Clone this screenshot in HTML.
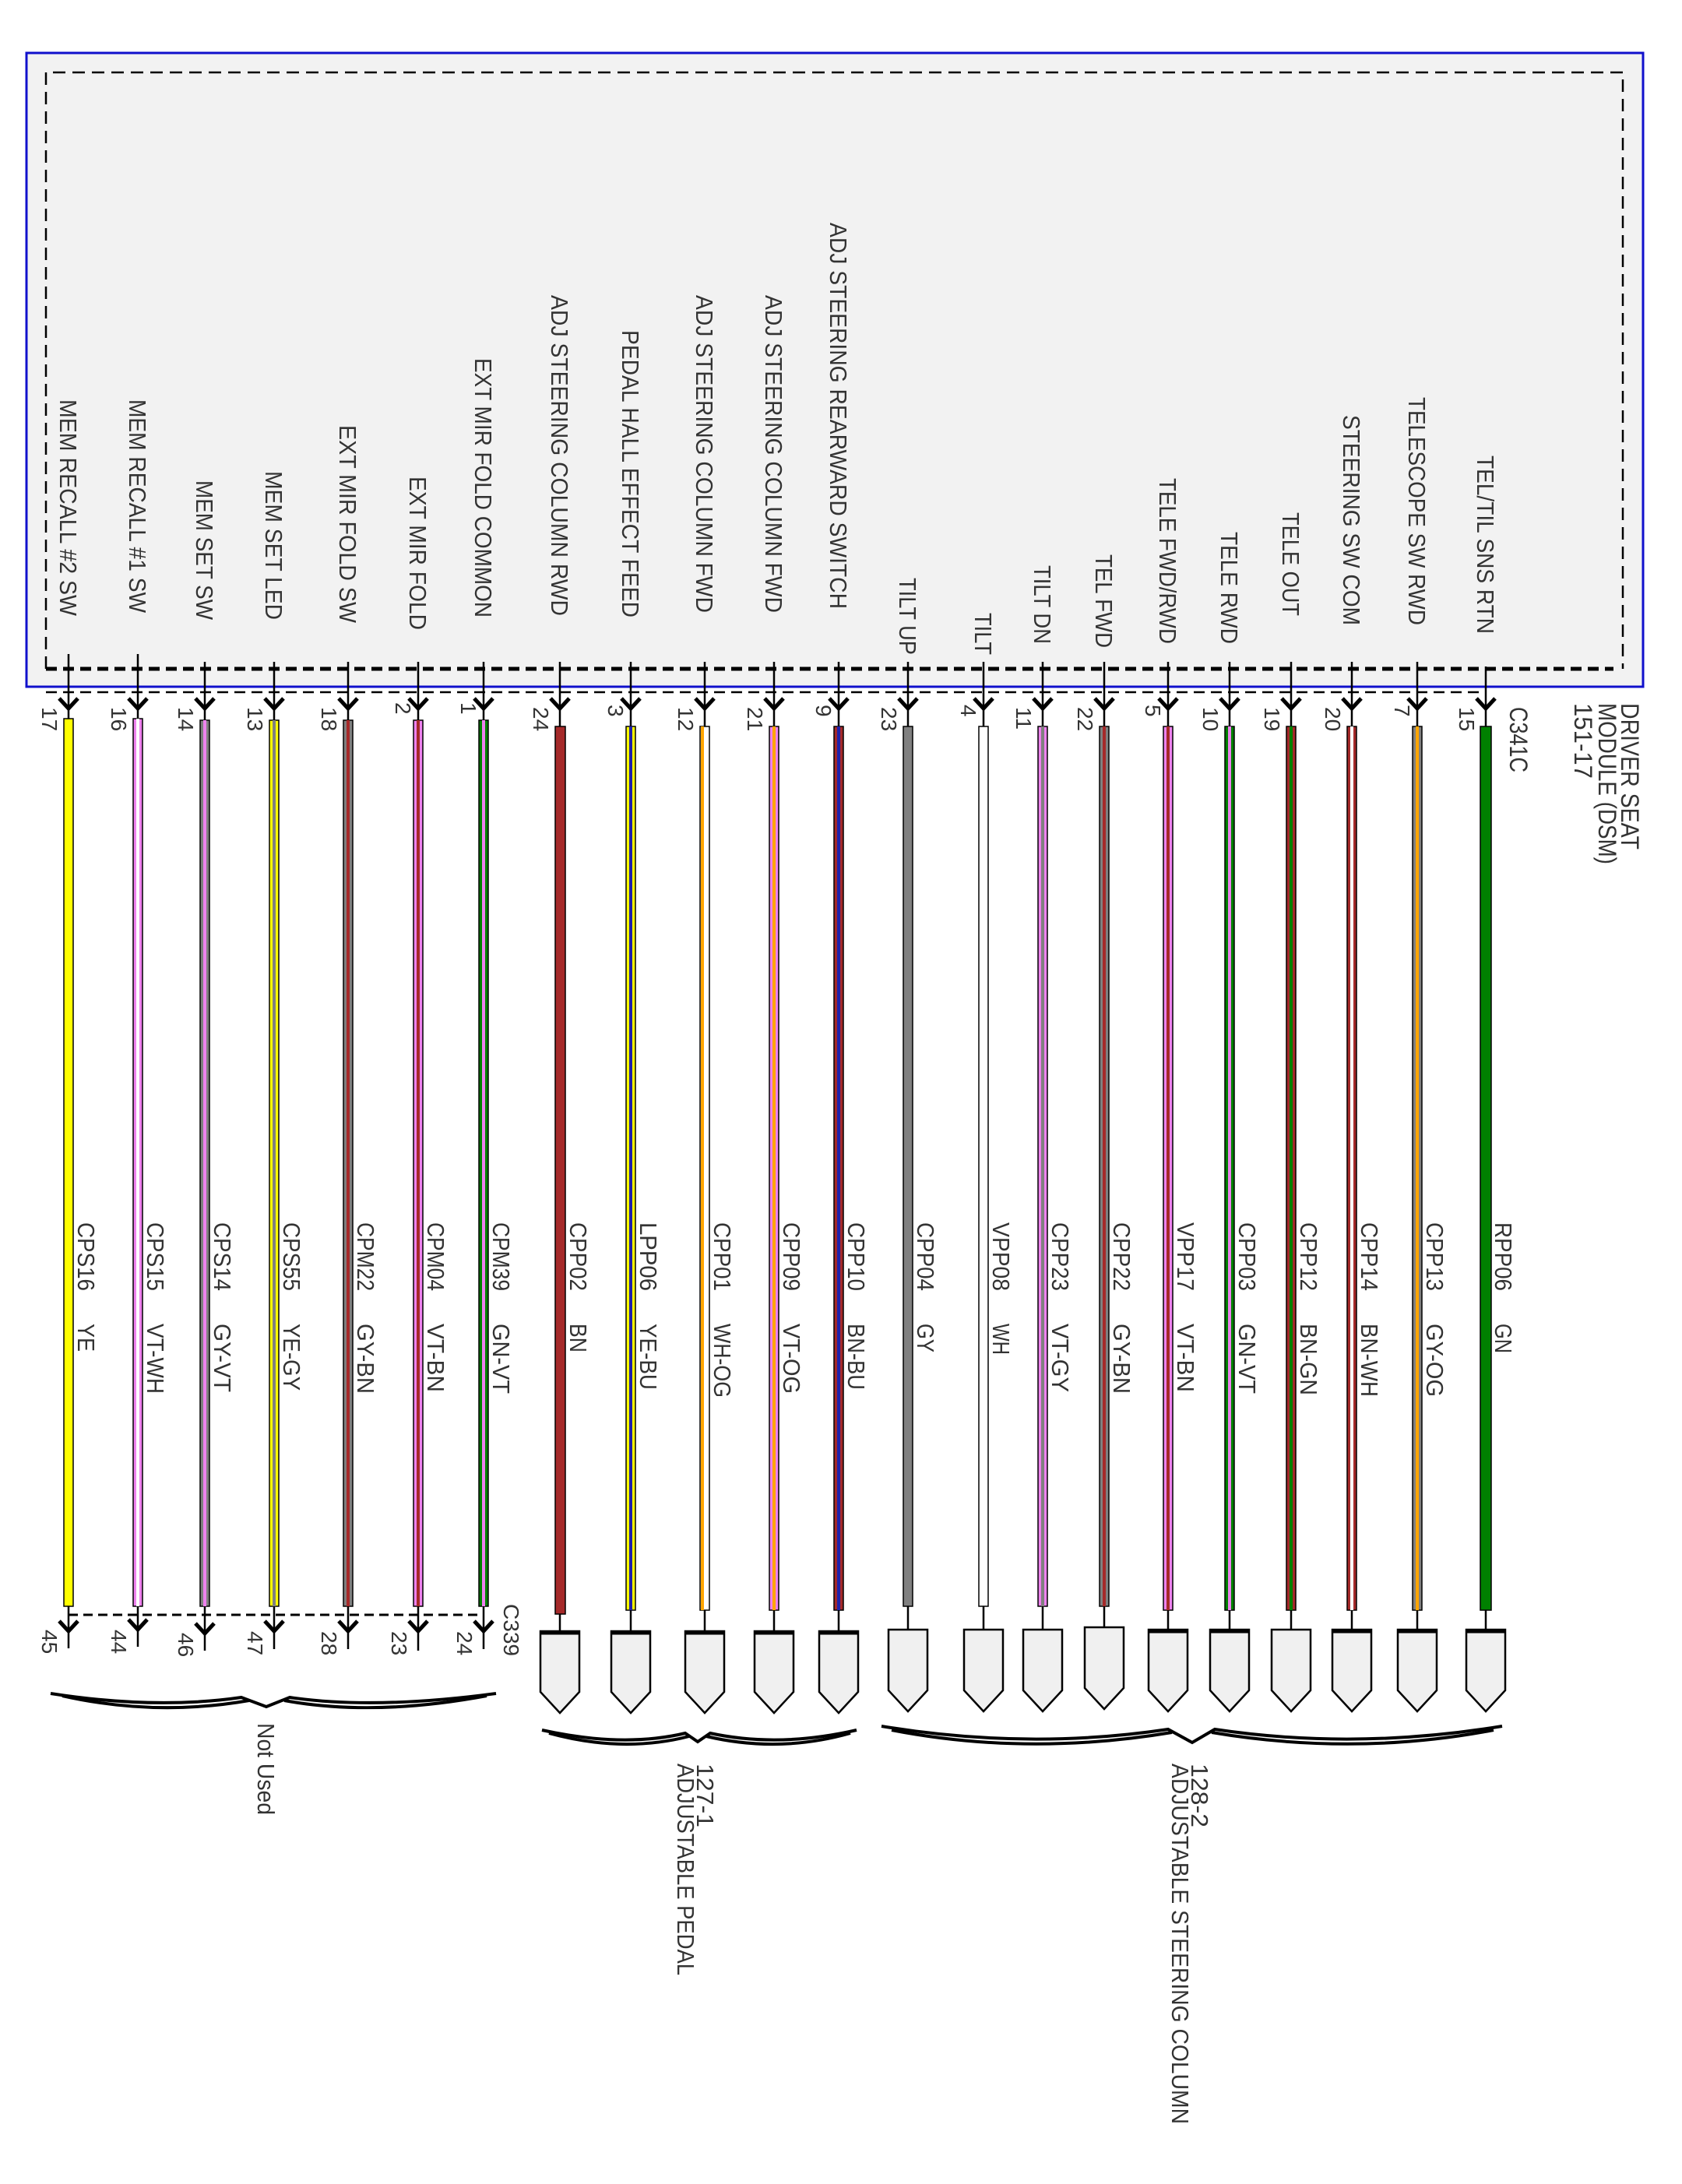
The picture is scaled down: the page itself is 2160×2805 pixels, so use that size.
<!DOCTYPE html>
<html><head><meta charset="utf-8"><style>
html,body{margin:0;padding:0;background:#fff}
svg{display:block}
text{font-family:"Liberation Sans",Arial,sans-serif;fill:#333}
</style></head><body>
<svg width="2160" height="2805" viewBox="0 0 2160 2805" xmlns="http://www.w3.org/2000/svg">
<rect x="34" y="68" width="2076" height="814" fill="#f2f2f2" stroke="#1010cc" stroke-width="3"/>
<path d="M59 859 V93 H2084 V859" fill="none" stroke="#000" stroke-width="2.5" stroke-dasharray="16 9"/>
<path d="M59 859 H2072" fill="none" stroke="#000" stroke-width="5" stroke-dasharray="14 8"/>
<path d="M59 889 H1908" fill="none" stroke="#000" stroke-width="2.5" stroke-dasharray="14 8"/>
<path d="M88 2074 H620" fill="none" stroke="#000" stroke-width="3" stroke-dasharray="12 7"/>

<g font-size="31">
<text transform="translate(77,791) rotate(90)" text-anchor="end" textLength="278" lengthAdjust="spacingAndGlyphs">MEM RECALL #2 SW</text>
<text transform="translate(166,787) rotate(90)" text-anchor="end" textLength="274" lengthAdjust="spacingAndGlyphs">MEM RECALL #1 SW</text>
<text transform="translate(252,796) rotate(90)" text-anchor="end" textLength="179" lengthAdjust="spacingAndGlyphs">MEM SET SW</text>
<text transform="translate(341,796) rotate(90)" text-anchor="end" textLength="191" lengthAdjust="spacingAndGlyphs">MEM SET LED</text>
<text transform="translate(436,800) rotate(90)" text-anchor="end" textLength="254" lengthAdjust="spacingAndGlyphs">EXT MIR FOLD SW</text>
<text transform="translate(526,809) rotate(90)" text-anchor="end" textLength="197" lengthAdjust="spacingAndGlyphs">EXT MIR FOLD</text>
<text transform="translate(610,793) rotate(90)" text-anchor="end" textLength="333" lengthAdjust="spacingAndGlyphs">EXT MIR FOLD COMMON</text>
<text transform="translate(708,791) rotate(90)" text-anchor="end" textLength="412" lengthAdjust="spacingAndGlyphs">ADJ STEERING COLUMN RWD</text>
<text transform="translate(799,793) rotate(90)" text-anchor="end" textLength="369" lengthAdjust="spacingAndGlyphs">PEDAL HALL EFFECT FEED</text>
<text transform="translate(894,787) rotate(90)" text-anchor="end" textLength="408" lengthAdjust="spacingAndGlyphs">ADJ STEERING COLUMN FWD</text>
<text transform="translate(983,787) rotate(90)" text-anchor="end" textLength="408" lengthAdjust="spacingAndGlyphs">ADJ STEERING COLUMN FWD</text>
<text transform="translate(1066,782) rotate(90)" text-anchor="end" textLength="496" lengthAdjust="spacingAndGlyphs">ADJ STEERING REARWARD SWITCH</text>
<text transform="translate(1155,841) rotate(90)" text-anchor="end" textLength="99" lengthAdjust="spacingAndGlyphs">TILT UP</text>
<text transform="translate(1252,841) rotate(90)" text-anchor="end" textLength="54" lengthAdjust="spacingAndGlyphs">TILT</text>
<text transform="translate(1328,827) rotate(90)" text-anchor="end" textLength="101" lengthAdjust="spacingAndGlyphs">TILT DN</text>
<text transform="translate(1407,832) rotate(90)" text-anchor="end" textLength="120" lengthAdjust="spacingAndGlyphs">TEL FWD</text>
<text transform="translate(1489,827) rotate(90)" text-anchor="end" textLength="213" lengthAdjust="spacingAndGlyphs">TELE FWD/RWD</text>
<text transform="translate(1568,827) rotate(90)" text-anchor="end" textLength="144" lengthAdjust="spacingAndGlyphs">TELE RWD</text>
<text transform="translate(1647,791) rotate(90)" text-anchor="end" textLength="133" lengthAdjust="spacingAndGlyphs">TELE OUT</text>
<text transform="translate(1725,803) rotate(90)" text-anchor="end" textLength="270" lengthAdjust="spacingAndGlyphs">STEERING SW COM</text>
<text transform="translate(1809,803) rotate(90)" text-anchor="end" textLength="293" lengthAdjust="spacingAndGlyphs">TELESCOPE SW RWD</text>
<text transform="translate(1897,814) rotate(90)" text-anchor="end" textLength="229" lengthAdjust="spacingAndGlyphs">TEL/TIL SNS RTN</text>
</g>

<!-- stubs from inner box to wires -->
<g stroke="#000" stroke-width="2.5">
<path d="M88 840V935M177 840V935M263 850V935M352 850V935M447 850V935M537 850V935M621 850V935M719 850V935M810 850V935M905 850V935M994 850V935M1077 850V935M1166 850V935M1263 850V935M1339 850V935M1418 850V935M1500 850V935M1579 850V935M1658 850V935M1736 850V935M1820 850V935M1908 856V935"/>
</g>
<!-- forks top -->
<g fill="none" stroke="#000" stroke-width="5">
<path d="M76 897L88 910L100 897M165 897L177 910L189 897M251 897L263 910L275 897M340 897L352 910L364 897M435 897L447 910L459 897M525 897L537 910L549 897M609 897L621 910L633 897M707 897L719 910L731 897M798 897L810 910L822 897M893 897L905 910L917 897M982 897L994 910L1006 897M1065 897L1077 910L1089 897M1154 897L1166 910L1178 897M1251 897L1263 910L1275 897M1327 897L1339 910L1351 897M1406 897L1418 910L1430 897M1488 897L1500 910L1512 897M1567 897L1579 910L1591 897M1646 897L1658 910L1670 897M1724 897L1736 910L1748 897M1808 897L1820 910L1832 897M1896 897L1908 910L1920 897"/>
</g>

<!-- wires: primary then stripe -->
<g stroke="#000" stroke-width="1.5">
<rect x="82" y="923" width="12" height="1140" fill="#ffff00"/>
<rect x="171" y="923" width="12" height="1140" fill="#ee82ee"/>
<rect x="257" y="925" width="12" height="1138" fill="#808080"/>
<rect x="346" y="925" width="12" height="1138" fill="#ffff00"/>
<rect x="441" y="925" width="12" height="1138" fill="#808080"/>
<rect x="531" y="925" width="12" height="1138" fill="#ee82ee"/>
<rect x="615" y="925" width="12" height="1138" fill="#008000"/>
<rect x="713" y="933" width="13" height="1140" fill="#a52a2a"/>
<rect x="804" y="933" width="12" height="1135" fill="#ffff00"/>
<rect x="899" y="933" width="12" height="1135" fill="#ffffff"/>
<rect x="988" y="933" width="12" height="1135" fill="#ee82ee"/>
<rect x="1071" y="933" width="12" height="1135" fill="#a52a2a"/>
<rect x="1160" y="933" width="12" height="1130" fill="#808080"/>
<rect x="1257" y="933" width="12" height="1130" fill="#ffffff"/>
<rect x="1333" y="933" width="12" height="1130" fill="#ee82ee"/>
<rect x="1412" y="933" width="12" height="1130" fill="#808080"/>
<rect x="1494" y="933" width="12" height="1135" fill="#ee82ee"/>
<rect x="1573" y="933" width="12" height="1135" fill="#008000"/>
<rect x="1652" y="933" width="12" height="1135" fill="#a52a2a"/>
<rect x="1730" y="933" width="12" height="1135" fill="#a52a2a"/>
<rect x="1814" y="933" width="12" height="1135" fill="#808080"/>
<rect x="1901" y="933" width="14" height="1135" fill="#008000"/>
</g>
<g>
<rect x="175" y="923" width="4" height="1140" fill="#fff"/>
<rect x="261" y="925" width="4" height="1138" fill="#ee82ee"/>
<rect x="350" y="925" width="4" height="1138" fill="#808080"/>
<rect x="445" y="925" width="4" height="1138" fill="#a52a2a"/>
<rect x="535" y="925" width="4" height="1138" fill="#a52a2a"/>
<rect x="619" y="925" width="4" height="1138" fill="#ee82ee"/>
<rect x="808" y="933" width="4" height="1135" fill="#2020aa"/>
<rect x="900" y="933" width="4" height="1135" fill="#ffa500"/>
<rect x="992" y="933" width="4" height="1135" fill="#ffa500"/>
<rect x="1075" y="933" width="4" height="1135" fill="#2020aa"/>
<rect x="1337" y="933" width="4" height="1130" fill="#808080"/>
<rect x="1416" y="933" width="4" height="1130" fill="#a52a2a"/>
<rect x="1498" y="933" width="4" height="1135" fill="#a52a2a"/>
<rect x="1577" y="933" width="4" height="1135" fill="#ee82ee"/>
<rect x="1656" y="933" width="4" height="1135" fill="#008000"/>
<rect x="1734" y="933" width="4" height="1135" fill="#fff"/>
<rect x="1818" y="933" width="4" height="1135" fill="#ffa500"/>
</g>

<!-- top pin numbers -->
<g font-size="28">
<text transform="translate(54,908) rotate(90)">17</text>
<text transform="translate(143,908) rotate(90)">16</text>
<text transform="translate(229,908) rotate(90)">14</text>
<text transform="translate(318,908) rotate(90)">13</text>
<text transform="translate(413,908) rotate(90)">18</text>
<text transform="translate(508,902) rotate(90)">2</text>
<text transform="translate(592,902) rotate(90)">1</text>
<text transform="translate(685,908) rotate(90)">24</text>
<text transform="translate(781,905) rotate(90)">3</text>
<text transform="translate(871,908) rotate(90)">12</text>
<text transform="translate(960,908) rotate(90)">21</text>
<text transform="translate(1048,905) rotate(90)">9</text>
<text transform="translate(1132,908) rotate(90)">23</text>
<text transform="translate(1234,905) rotate(90)">4</text>
<text transform="translate(1305,908) rotate(90)">11</text>
<text transform="translate(1384,908) rotate(90)">22</text>
<text transform="translate(1471,905) rotate(90)">5</text>
<text transform="translate(1545,908) rotate(90)">10</text>
<text transform="translate(1624,908) rotate(90)">19</text>
<text transform="translate(1702,908) rotate(90)">20</text>
<text transform="translate(1791,905) rotate(90)">7</text>
<text transform="translate(1874,908) rotate(90)">15</text>
</g>

<g font-size="32">
<text transform="translate(1939,908) rotate(90)" textLength="84" lengthAdjust="spacingAndGlyphs">C341C</text>
<text transform="translate(2082,903) rotate(90)" textLength="188" lengthAdjust="spacingAndGlyphs">DRIVER SEAT</text>
<text transform="translate(2053,903) rotate(90)" textLength="207" lengthAdjust="spacingAndGlyphs">MODULE (DSM)</text>
<text transform="translate(2022,903) rotate(90)" textLength="97" lengthAdjust="spacingAndGlyphs">151-17</text>
</g>

<!-- circuit labels -->
<g font-size="31">
<text transform="translate(100,1570) rotate(90)" textLength="88" lengthAdjust="spacingAndGlyphs">CPS16</text><text transform="translate(100,1700) rotate(90)" textLength="36" lengthAdjust="spacingAndGlyphs">YE</text>
<text transform="translate(189,1570) rotate(90)" textLength="88" lengthAdjust="spacingAndGlyphs">CPS15</text><text transform="translate(189,1700) rotate(90)" textLength="90" lengthAdjust="spacingAndGlyphs">VT-WH</text>
<text transform="translate(275,1570) rotate(90)" textLength="88" lengthAdjust="spacingAndGlyphs">CPS14</text><text transform="translate(275,1700) rotate(90)" textLength="88" lengthAdjust="spacingAndGlyphs">GY-VT</text>
<text transform="translate(364,1570) rotate(90)" textLength="88" lengthAdjust="spacingAndGlyphs">CPS55</text><text transform="translate(364,1700) rotate(90)" textLength="86" lengthAdjust="spacingAndGlyphs">YE-GY</text>
<text transform="translate(459,1570) rotate(90)" textLength="88" lengthAdjust="spacingAndGlyphs">CPM22</text><text transform="translate(459,1700) rotate(90)" textLength="90" lengthAdjust="spacingAndGlyphs">GY-BN</text>
<text transform="translate(549,1570) rotate(90)" textLength="88" lengthAdjust="spacingAndGlyphs">CPM04</text><text transform="translate(549,1700) rotate(90)" textLength="88" lengthAdjust="spacingAndGlyphs">VT-BN</text>
<text transform="translate(633,1570) rotate(90)" textLength="88" lengthAdjust="spacingAndGlyphs">CPM39</text><text transform="translate(633,1700) rotate(90)" textLength="90" lengthAdjust="spacingAndGlyphs">GN-VT</text>
<text transform="translate(732,1570) rotate(90)" textLength="88" lengthAdjust="spacingAndGlyphs">CPP02</text><text transform="translate(732,1700) rotate(90)" textLength="37" lengthAdjust="spacingAndGlyphs">BN</text>
<text transform="translate(822,1570) rotate(90)" textLength="88" lengthAdjust="spacingAndGlyphs">LPP06</text><text transform="translate(822,1700) rotate(90)" textLength="85" lengthAdjust="spacingAndGlyphs">YE-BU</text>
<text transform="translate(917,1570) rotate(90)" textLength="88" lengthAdjust="spacingAndGlyphs">CPP01</text><text transform="translate(917,1700) rotate(90)" textLength="95" lengthAdjust="spacingAndGlyphs">WH-OG</text>
<text transform="translate(1006,1570) rotate(90)" textLength="88" lengthAdjust="spacingAndGlyphs">CPP09</text><text transform="translate(1006,1700) rotate(90)" textLength="90" lengthAdjust="spacingAndGlyphs">VT-OG</text>
<text transform="translate(1089,1570) rotate(90)" textLength="88" lengthAdjust="spacingAndGlyphs">CPP10</text><text transform="translate(1089,1700) rotate(90)" textLength="85" lengthAdjust="spacingAndGlyphs">BN-BU</text>
<text transform="translate(1178,1570) rotate(90)" textLength="88" lengthAdjust="spacingAndGlyphs">CPP04</text><text transform="translate(1178,1700) rotate(90)" textLength="37" lengthAdjust="spacingAndGlyphs">GY</text>
<text transform="translate(1275,1570) rotate(90)" textLength="88" lengthAdjust="spacingAndGlyphs">VPP08</text><text transform="translate(1275,1700) rotate(90)" textLength="40" lengthAdjust="spacingAndGlyphs">WH</text>
<text transform="translate(1351,1570) rotate(90)" textLength="88" lengthAdjust="spacingAndGlyphs">CPP23</text><text transform="translate(1351,1700) rotate(90)" textLength="88" lengthAdjust="spacingAndGlyphs">VT-GY</text>
<text transform="translate(1430,1570) rotate(90)" textLength="88" lengthAdjust="spacingAndGlyphs">CPP22</text><text transform="translate(1430,1700) rotate(90)" textLength="90" lengthAdjust="spacingAndGlyphs">GY-BN</text>
<text transform="translate(1512,1570) rotate(90)" textLength="88" lengthAdjust="spacingAndGlyphs">VPP17</text><text transform="translate(1512,1700) rotate(90)" textLength="88" lengthAdjust="spacingAndGlyphs">VT-BN</text>
<text transform="translate(1591,1570) rotate(90)" textLength="88" lengthAdjust="spacingAndGlyphs">CPP03</text><text transform="translate(1591,1700) rotate(90)" textLength="90" lengthAdjust="spacingAndGlyphs">GN-VT</text>
<text transform="translate(1670,1570) rotate(90)" textLength="88" lengthAdjust="spacingAndGlyphs">CPP12</text><text transform="translate(1670,1700) rotate(90)" textLength="92" lengthAdjust="spacingAndGlyphs">BN-GN</text>
<text transform="translate(1748,1570) rotate(90)" textLength="88" lengthAdjust="spacingAndGlyphs">CPP14</text><text transform="translate(1748,1700) rotate(90)" textLength="94" lengthAdjust="spacingAndGlyphs">BN-WH</text>
<text transform="translate(1832,1570) rotate(90)" textLength="88" lengthAdjust="spacingAndGlyphs">CPP13</text><text transform="translate(1832,1700) rotate(90)" textLength="94" lengthAdjust="spacingAndGlyphs">GY-OG</text>
<text transform="translate(1920,1570) rotate(90)" textLength="88" lengthAdjust="spacingAndGlyphs">RPP06</text><text transform="translate(1920,1700) rotate(90)" textLength="38" lengthAdjust="spacingAndGlyphs">GN</text>
</g>

<!-- bottom stubs for not used -->
<g stroke="#000" stroke-width="2.5">
<path d="M88 2063V2117M177 2063V2115M263 2063V2120M352 2063V2118M447 2063V2118M537 2063V2120M621 2063V2118"/>
</g>
<g fill="none" stroke="#000" stroke-width="5">
<path d="M76 2082L88 2095L100 2082M165 2080L177 2093L189 2080M251 2085L263 2098L275 2085M340 2082L352 2095L364 2082M435 2082L447 2095L459 2082M525 2082L537 2095L549 2082M609 2082L621 2095L633 2082"/>
</g>
<g font-size="28">
<text transform="translate(54,2093) rotate(90)">45</text>
<text transform="translate(143,2093) rotate(90)">44</text>
<text transform="translate(229,2097) rotate(90)">46</text>
<text transform="translate(318,2095) rotate(90)">47</text>
<text transform="translate(413,2095) rotate(90)">28</text>
<text transform="translate(503,2095) rotate(90)">23</text>
<text transform="translate(587,2095) rotate(90)">24</text>
<text transform="translate(647,2060) rotate(90)" textLength="67" lengthAdjust="spacingAndGlyphs">C339</text>
</g>

<!-- connectors -->
<g stroke="#000" stroke-width="2.5" fill="#f0f0f0">
<path d="M719 2073V2095M810 2068V2095M905 2068V2095M994 2068V2095M1077 2068V2095M1166 2063V2093M1263 2063V2093M1339 2063V2093M1418 2063V2090M1500 2068V2093M1579 2068V2093M1658 2068V2093M1736 2068V2093M1820 2068V2093M1908 2068V2093"/>
<path d="M694 2095H744V2173L719 2200L694 2173Z"/>
<path d="M785 2095H835V2173L810 2200L785 2173Z"/>
<path d="M880 2095H930V2173L905 2200L880 2173Z"/>
<path d="M969 2095H1019V2173L994 2200L969 2173Z"/>
<path d="M1052 2095H1102V2173L1077 2200L1052 2173Z"/>
<path d="M1141 2093H1191V2171L1166 2198L1141 2171Z"/>
<path d="M1238 2093H1288V2171L1263 2198L1238 2171Z"/>
<path d="M1314 2093H1364V2171L1339 2198L1314 2171Z"/>
<path d="M1393 2090H1443V2168L1418 2195L1393 2168Z"/>
<path d="M1475 2093H1525V2171L1500 2198L1475 2171Z"/>
<path d="M1554 2093H1604V2171L1579 2198L1554 2171Z"/>
<path d="M1633 2093H1683V2171L1658 2198L1633 2171Z"/>
<path d="M1711 2093H1761V2171L1736 2198L1711 2171Z"/>
<path d="M1795 2093H1845V2171L1820 2198L1795 2171Z"/>
<path d="M1883 2093H1933V2171L1908 2198L1883 2171Z"/>
</g>
<g stroke="#000" stroke-width="5">
<path d="M694 2097H744M785 2097H835M880 2097H930M969 2097H1019M1052 2097H1102M1494 2095H1525M1475 2095H1525M1554 2095H1604M1711 2095H1761M1795 2095H1845M1883 2095H1933"/>
</g>

<!-- braces -->
<g fill="none" stroke="#000" stroke-width="4">
<path d="M65 2175 Q200 2196 310 2180 L342 2192 L372 2180 Q480 2196 637 2175"/>
<path d="M80 2178 Q200 2205 320 2184"/>
<path d="M365 2184 Q480 2205 625 2178"/>
<path d="M696 2222 Q800 2245 880 2226 L896 2237 L912 2226 Q1000 2245 1100 2222"/>
<path d="M705 2226 Q800 2252 885 2230"/>
<path d="M907 2230 Q1000 2252 1092 2226"/>
<path d="M1132 2217 Q1320 2248 1500 2221 L1531 2238 L1560 2221 Q1740 2248 1929 2217"/>
<path d="M1145 2222 Q1320 2256 1505 2225"/>
<path d="M1556 2225 Q1740 2256 1918 2222"/>
</g>
<g font-size="31">
<text transform="translate(331,2213) rotate(90)" textLength="118" lengthAdjust="spacingAndGlyphs">Not Used</text>
<text transform="translate(895,2265) rotate(90)" textLength="82" lengthAdjust="spacingAndGlyphs">127-1</text>
<text transform="translate(870,2265) rotate(90)" textLength="272" lengthAdjust="spacingAndGlyphs">ADJUSTABLE PEDAL</text>
<text transform="translate(1530,2265) rotate(90)" textLength="82" lengthAdjust="spacingAndGlyphs">128-2</text>
<text transform="translate(1505,2265) rotate(90)" textLength="463" lengthAdjust="spacingAndGlyphs">ADJUSTABLE STEERING COLUMN</text>
</g>
</svg>
</body></html>
